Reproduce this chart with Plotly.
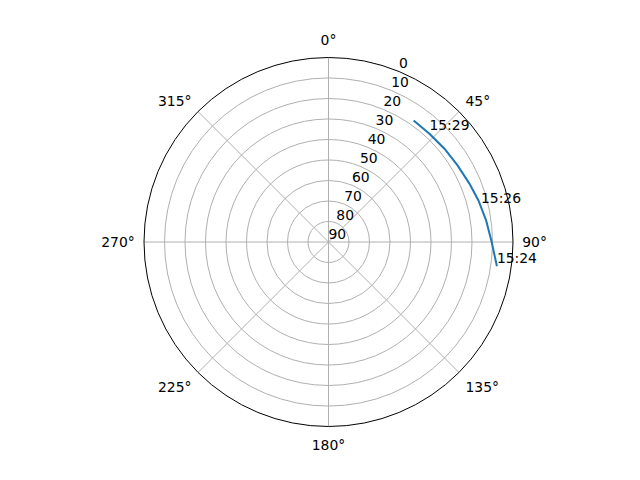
import plotly.graph_objects as go

# Satellite track (azimuth in degrees clockwise from north, elevation in degrees)
track_az = [98.2, 90.0, 82.2, 74.5, 67.5, 59.3, 51.2, 43.0, 35.0]
track_el = [7.0, 10.4, 12.4, 14.1, 15.6, 16.8, 17.4, 17.8, 17.6]

# Time labels along the track
label_text = ["15:24", "15:26", "15:29"]
label_az = [98.2, 76.8, 43.0]
label_el = [7.0, 13.6, 17.8]

angle_ticks = [0, 45, 90, 135, 180, 225, 270, 315]
radial_ticks = [0, 10, 20, 30, 40, 50, 60, 70, 80, 90]
radial_label_az = 22.5  # direction along which the elevation labels are written

FONT = "DejaVu Sans"

fig = go.Figure()
fig.add_trace(go.Scatterpolar(
    r=track_el, theta=track_az, mode="lines",
    line=dict(color="#1f77b4", width=2),
    hoverinfo="skip", showlegend=False,
))
fig.add_trace(go.Scatterpolar(
    r=label_el, theta=label_az, mode="text",
    text=label_text, textposition="top right",
    textfont=dict(family=FONT, size=13.9, color="black"),
    hoverinfo="skip", showlegend=False,
))
# Elevation tick labels (matplotlib-style, along 22.5 deg)
fig.add_trace(go.Scatterpolar(
    r=radial_ticks, theta=[radial_label_az] * len(radial_ticks), mode="text",
    text=[str(v) for v in radial_ticks], textposition="top right",
    textfont=dict(family=FONT, size=13.9, color="black"),
    cliponaxis=False,
    hoverinfo="skip", showlegend=False,
))

fig.update_layout(
    width=640, height=480,
    paper_bgcolor="white",
    margin=dict(l=136, r=135, t=49, b=61),
    font=dict(family=FONT, size=13.9, color="black"),
    showlegend=False,
    polar=dict(
        bgcolor="white",
        domain=dict(x=[0, 1], y=[0, 1]),
        angularaxis=dict(
            rotation=90, direction="clockwise",
            tickmode="array", tickvals=angle_ticks,
            ticktext=[f"{a}°" for a in angle_ticks],
            showline=True, linecolor="black", linewidth=1,
            showgrid=True, gridcolor="#b0b0b0", gridwidth=1,
            ticks="outside", ticklen=6, tickcolor="rgba(0,0,0,0)",
            tickfont=dict(family=FONT, size=13.9, color="black"),
        ),
        radialaxis=dict(
            range=[90, 0],
            tickmode="array", tickvals=radial_ticks,
            showticklabels=False,
            angle=67.5,
            showline=False, ticks="",
            showgrid=True, gridcolor="#b0b0b0", gridwidth=1,
        ),
    ),
)

fig.write_html("out.html")
